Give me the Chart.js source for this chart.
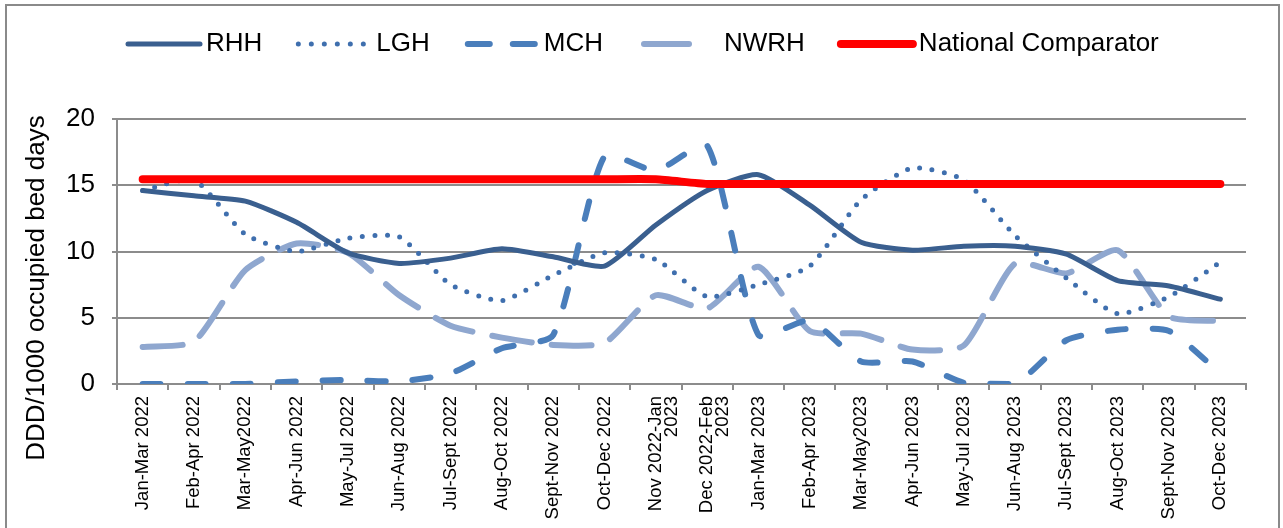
<!DOCTYPE html>
<html>
<head>
<meta charset="utf-8">
<script src="https://cdn.jsdelivr.net/npm/chart.js@4.4.1/dist/chart.umd.min.js"></script>
<style>
  html, body { margin: 0; padding: 0; background: #ffffff; }
  #wrap { position: relative; width: 1283px; height: 528px; }
  canvas { display: block; }
</style>
</head>
<body>
<div id="wrap"><canvas id="c" width="1283" height="528"></canvas></div>
<script>
// Rolling three-month periods
const periods = [
  "Jan-Mar 2022", "Feb-Apr 2022", "Mar-May2022", "Apr-Jun 2022", "May-Jul 2022",
  "Jun-Aug 2022", "Jul-Sept 2022", "Aug-Oct 2022", "Sept-Nov 2022", "Oct-Dec 2022",
  ["Nov 2022-Jan", "2023"], ["Dec 2022-Feb", "2023"], "Jan-Mar 2023", "Feb-Apr 2023",
  "Mar-May2023", "Apr-Jun 2023", "May-Jul 2023", "Jun-Aug 2023", "Jul-Sept 2023",
  "Aug-Oct 2023", "Sept-Nov 2023", "Oct-Dec 2023"
];

// DDD per 1000 occupied bed days, by hospital
const rhh = [14.6, 14.2, 13.8, 12.2, 9.9, 9.1, 9.5, 10.2, 9.6, 8.9, 12.0, 14.6,
             15.8, 13.5, 10.7, 10.1, 10.4, 10.4, 9.8, 7.8, 7.4, 6.4];
const lgh = [14.6, 15.4, 11.3, 10.0, 11.0, 11.1, 7.5, 6.3, 8.2, 9.9, 9.4, 6.6,
             7.5, 8.9, 13.9, 16.3, 15.4, 11.2, 8.0, 5.3, 6.6, 9.2];
const mch = [0.0, 0.0, 0.0, 0.2, 0.3, 0.2, 0.8, 2.7, 3.7, 17.2, 16.1, 18.0,
             3.7, 4.8, 1.7, 1.7, 0.1, 0.0, 3.3, 4.1, 4.0, 0.8];
const nwrh = [2.8, 3.2, 8.6, 10.6, 9.9, 6.7, 4.4, 3.5, 2.95, 3.1, 6.7, 5.7,
              8.85, 4.0, 3.8, 2.6, 2.9, 9.1, 8.35, 10.1, 5.1, 4.75];
const national = [15.45, 15.45, 15.45, 15.45, 15.45, 15.45, 15.45, 15.45, 15.45, 15.45, 15.45,
                  15.1, 15.1, 15.1, 15.1, 15.1, 15.1, 15.1, 15.1, 15.1, 15.1, 15.1];

const yTicks = [0, 5, 10, 15, 20];
const yTitle = "DDD/1000 occupied bed days";

const FONT = "'Liberation Sans', Arial, sans-serif";
const GRID = "#8c8c8c";

const series = [
  { label: "RHH", data: rhh, color: "#3a5f8f", width: 5, dash: [], order: 1 },
  { label: "LGH", data: lgh, color: "#3f6fae", width: 5, dash: [0, 12.5], order: 2 },
  { label: "MCH", data: mch, color: "#4a7ebb", width: 6, dash: [18, 27], order: 3 },
  { label: "NWRH", data: nwrh, color: "#8fa7cf", width: 6, dash: [40, 20], order: 4 },
  { label: "National Comparator", data: national, color: "#ff0000", width: 8, dash: [], order: 0 }
];

// Outer frame of the chart
const framePlugin = {
  id: "frame",
  beforeDraw(chart) {
    const ctx = chart.ctx;
    ctx.save();
    ctx.fillStyle = "#ffffff";
    ctx.fillRect(0, 0, chart.width, chart.height);
    ctx.strokeStyle = "#8a8a8a";
    ctx.lineWidth = 2;
    ctx.strokeRect(6, 5, 1273, 560);
    ctx.restore();
  }
};

// Line-sample legend above the plot and the rotated axis title
const legendTitlePlugin = {
  id: "legendTitle",
  afterDraw(chart) {
    const ctx = chart.ctx;
    ctx.save();
    ctx.font = "26px " + FONT;
    ctx.textBaseline = "middle";
    ctx.fillStyle = "#000000";
    const y = 44;
    let x = 128;
    const sampleW = 72;
    series.forEach((s) => {
      ctx.save();
      ctx.strokeStyle = s.color;
      ctx.lineWidth = s.width;
      ctx.lineCap = "round";
      let x0 = x, x1 = x + sampleW;
      if (s.label === "LGH") ctx.setLineDash([0, 13]);
      if (s.label === "MCH") { ctx.setLineDash([22, 23]); x0 = x + 2; }
      if (s.label === "NWRH") { x0 = x + 5; x1 = x + 50; }
      ctx.beginPath();
      ctx.moveTo(x0, y);
      ctx.lineTo(x1, y);
      ctx.stroke();
      ctx.restore();
      let tx = x + sampleW + 6;
      if (s.label === "NWRH") tx += 7;
      ctx.fillText(s.label, tx, y);
      x = tx + ctx.measureText(s.label).width + 36;
    });
    ctx.restore();

    ctx.save();
    ctx.font = "26px " + FONT;
    ctx.fillStyle = "#000000";
    ctx.textAlign = "center";
    ctx.textBaseline = "middle";
    ctx.translate(37, 288);
    ctx.rotate(-Math.PI / 2);
    ctx.fillText(yTitle, 0, 0);
    ctx.restore();
  }
};

new Chart(document.getElementById("c"), {
  type: "line",
  data: {
    labels: periods,
    datasets: series.map(s => ({
      label: s.label,
      data: s.data,
      borderColor: s.color,
      backgroundColor: s.color,
      borderWidth: s.width,
      borderDash: s.dash,
      borderCapStyle: "round",
      borderJoinStyle: "round",
      pointRadius: 0,
      pointHoverRadius: 0,
      tension: 0.2,
      fill: false,
      order: s.order
    }))
  },
  options: {
    responsive: false,
    animation: false,
    devicePixelRatio: 1,
    layout: { padding: { left: 0, right: 37, top: 119, bottom: 0 } },
    plugins: {
      legend: { display: false },
      tooltip: { enabled: false },
      title: { display: false }
    },
    scales: {
      x: {
        type: "category",
        offset: true,
        grid: {
          offset: true,
          drawOnChartArea: false,
          drawTicks: true,
          tickLength: 6,
          color: GRID,
          lineWidth: 2
        },
        border: { display: true, color: GRID, width: 2 },
        ticks: {
          autoSkip: false,
          maxRotation: 90,
          minRotation: 90,
          padding: 6,
          color: "#000000",
          font: { family: FONT, size: 18.5, lineHeight: 0.85 }
        },
        afterFit(scale) { scale.height = 144; }
      },
      y: {
        min: 0,
        max: 20,
        afterBuildTicks(scale) { scale.ticks = yTicks.map(v => ({ value: v })); },
        grid: {
          color: GRID,
          lineWidth: 2,
          drawTicks: true,
          tickLength: 5
        },
        border: { display: true, color: GRID, width: 2 },
        ticks: {
          padding: 17,
          color: "#000000",
          font: { family: FONT, size: 26 }
        },
        afterFit(scale) { scale.width = 117; }
      }
    }
  },
  plugins: [framePlugin, legendTitlePlugin]
});
</script>
</body>
</html>
